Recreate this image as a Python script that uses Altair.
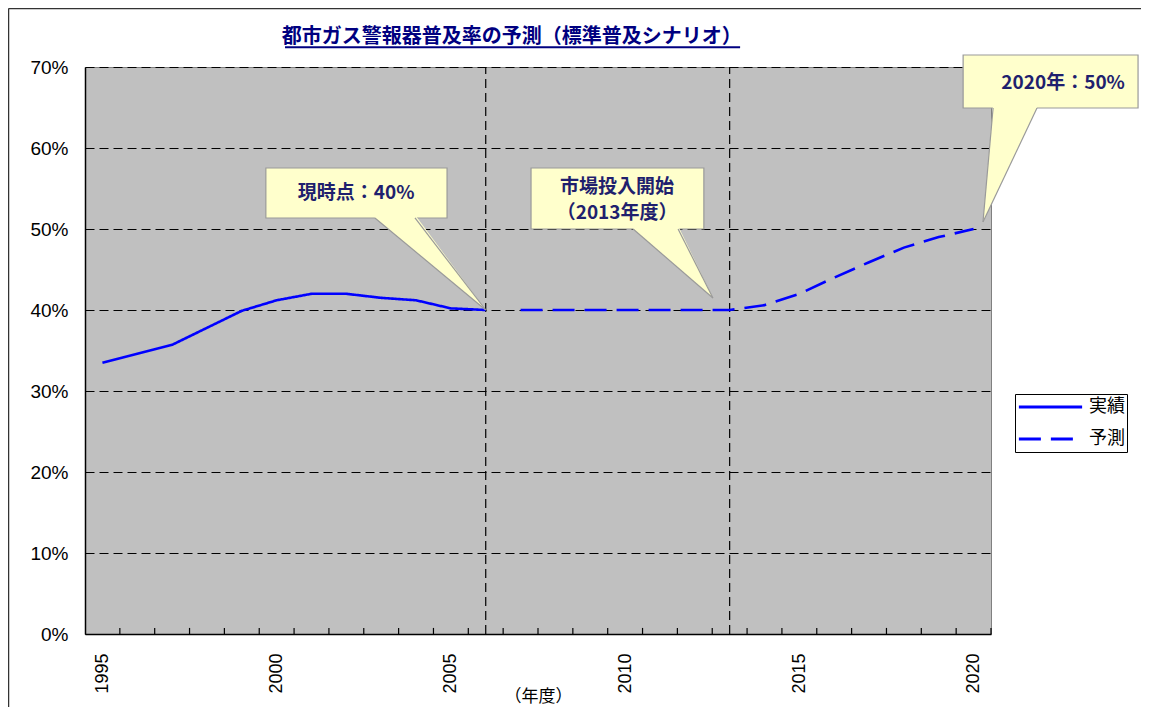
import altair as alt
import pandas as pd

# ---------------- data ----------------
title_text = "都市ガス警報器普及率の予測（標準普及シナリオ）"
x_axis_title = "（年度）"
series_names = ["実績", "予測"]

years_actual = [1995, 1996, 1997, 1998, 1999, 2000, 2001, 2002, 2003, 2004, 2005, 2006]
rate_actual = [33.5, 34.6, 35.7, 37.8, 39.9, 41.2, 42.0, 42.0, 41.5, 41.2, 40.2, 40.0]

years_forecast = [2007, 2008, 2009, 2010, 2011, 2012, 2013, 2014, 2015, 2016, 2017, 2018, 2019, 2020]
rate_forecast = [40.0, 40.0, 40.0, 40.0, 40.0, 40.0, 40.0, 40.6, 42.0, 44.0, 45.9, 47.7, 49.0, 50.0]

x_label_years = [1995, 2000, 2005, 2010, 2015, 2020]
y_tick_values = [0, 10, 20, 30, 40, 50, 60, 70]
marker_years = [2006, 2013]

callout_texts = ["現時点：40%", "市場投入開始", "（2013年度）", "2020年：50%"]

# ---------------- annotation geometry (data units) ----------------
box_x = [1999.69, 2007.30, 2019.70]
box_x2 = [2004.89, 2012.26, 2024.72]
box_y = [51.36, 50.0, 64.94]
box_y2 = [57.53, 57.53, 71.48]

ptr_bx1 = [2002.82, 2010.23, 2020.56]
ptr_bx2 = [2003.97, 2011.52, 2021.82]
ptr_by = [51.36, 50.0, 64.94]
ptr_tx = [2006.0, 2012.52, 2020.27]
ptr_ty = [40.0, 41.48, 50.86]

text_x = [2002.28, 2009.77, 2009.77, 2022.57]
text_y = [54.44, 55.19, 51.98, 68.02]

title_x, title_y = 2006.75, 73.75
underline_x, underline_x2, underline_y = 2000.24, 2013.30, 72.45

# ---------------- tables ----------------
line_df = pd.DataFrame({
    "year": years_actual + years_forecast,
    "rate": rate_actual + rate_forecast,
    "series": [series_names[0]] * len(years_actual) + [series_names[1]] * len(years_forecast),
})

marker_df = pd.DataFrame({"year": marker_years, "lo": [0, 0], "hi": [70, 70]})
tick_df = pd.DataFrame({"b": [y + 0.5 for y in range(1995, 2020)] + [2020.5]})
tick_df["lo"] = 0
tick_df["hi"] = 0.75

box_df = pd.DataFrame({"x": box_x, "x2": box_x2, "y": box_y, "y2": box_y2})

area_rows = []
side_rows = []
lift = 0.4
for i in range(3):
    bx1, bx2, by, tx, ty = ptr_bx1[i], ptr_bx2[i], ptr_by[i], ptr_tx[i], ptr_ty[i]
    if tx >= bx2:
        yb2 = by + (bx2 - bx1) / (tx - bx1) * (ty - by)
        pts = [(bx1, by + lift, by), (bx2, by + lift, yb2), (tx, ty, ty)]
    else:
        yb1 = ty + (bx1 - tx) / (bx2 - tx) * (by - ty)
        pts = [(tx, ty, ty), (bx1, by + lift, yb1), (bx2, by + lift, by)]
    for (px, t, b) in pts:
        area_rows.append({"id": i, "x": px, "top": t, "bot": b})
    side_rows.append({"x": bx1, "y": by, "x2": tx, "y2": ty})
    side_rows.append({"x": bx2, "y": by, "x2": tx, "y2": ty})
area_df = pd.DataFrame(area_rows)
side_df = pd.DataFrame(side_rows)

text_df = pd.DataFrame({"x": text_x, "y": text_y, "t": callout_texts})
title_df = pd.DataFrame({"x": [title_x], "y": [title_y], "t": [title_text]})
underline_df = pd.DataFrame({"x": [underline_x], "x2": [underline_x2], "y": [underline_y]})
one_df = pd.DataFrame({"a": [0]})

# ---------------- scales ----------------
xs = alt.Scale(domain=[1994.5, 2020.5], nice=False, zero=False)
ys = alt.Scale(domain=[0, 70], nice=False, zero=True)
navy = "#1F1F6E"
jp = "Noto Sans CJK JP"
lat = "Liberation Sans"

grid_layer = alt.Chart(line_df).mark_line(opacity=0).encode(
    x=alt.X("year:Q", scale=xs, axis=alt.Axis(
        values=x_label_years, format="d", labelAngle=-90, labelFontSize=18, labelFont=lat,
        labelColor="black", labelPadding=19, grid=False, ticks=False,
        domainColor="black", domainWidth=1.5,
        title=x_axis_title, titleFont=jp, titleFontSize=17, titleFontWeight="normal",
        titleColor="black", titleY=62, titleBaseline="middle")),
    y=alt.Y("rate:Q", scale=ys, axis=alt.Axis(
        values=y_tick_values, labelExpr="datum.value + '%'", labelFontSize=19, labelFont=lat,
        labelColor="black", labelPadding=17, ticks=False, grid=True, gridColor="black",
        gridDash=[9, 5], gridWidth=1, domainColor="black", domainWidth=1.5, title=None)),
)

marker_layer = alt.Chart(marker_df).mark_rule(color="black", strokeDash=[9, 5], strokeWidth=1.2).encode(
    x=alt.X("year:Q", scale=xs), y=alt.Y("lo:Q", scale=ys), y2="hi:Q")

tick_layer = alt.Chart(tick_df).mark_rule(color="black", strokeWidth=1.2).encode(
    x=alt.X("b:Q", scale=xs), y=alt.Y("lo:Q", scale=ys), y2="hi:Q")

lines = alt.Chart(line_df).mark_line(strokeWidth=2.6).encode(
    x=alt.X("year:Q", scale=xs),
    y=alt.Y("rate:Q", scale=ys),
    color=alt.Color("series:N", sort=series_names,
                    scale=alt.Scale(domain=series_names, range=["#0000FF", "#0000FF"]),
                    legend=alt.Legend(title=None)),
    strokeDash=alt.StrokeDash("series:N", sort=series_names,
                              scale=alt.Scale(domain=series_names, range=[[1, 0], [22, 10]]),
                              legend=alt.Legend(title=None)),
    detail="series:N",
)

boxes = alt.Chart(box_df).mark_rect(fill="#FFFFCC", stroke="#9A9A9A", strokeWidth=1.2).encode(
    x=alt.X("x:Q", scale=xs), x2="x2:Q", y=alt.Y("y:Q", scale=ys), y2="y2:Q")

pointers = alt.Chart(area_df).mark_area(fill="#FFFFCC", orient="vertical", opacity=1).encode(
    x=alt.X("x:Q", scale=xs), y=alt.Y("top:Q", scale=ys), y2="bot:Q", detail="id:N")

sides = alt.Chart(side_df).mark_rule(color="#9A9A9A", strokeWidth=1.2).encode(
    x=alt.X("x:Q", scale=xs), x2="x2:Q", y=alt.Y("y:Q", scale=ys), y2="y2:Q")

texts = alt.Chart(text_df).mark_text(font=jp, fontSize=19, fontWeight="bold", color=navy,
                                     align="center", baseline="middle").encode(
    x=alt.X("x:Q", scale=xs), y=alt.Y("y:Q", scale=ys), text="t:N")

title_mark = alt.Chart(title_df).mark_text(font=jp, fontSize=20, fontWeight="bold", color="#000080",
                                           align="center", baseline="middle").encode(
    x=alt.X("x:Q", scale=xs), y=alt.Y("y:Q", scale=ys), text="t:N")

underline = alt.Chart(underline_df).mark_rule(color="#000080", strokeWidth=2).encode(
    x=alt.X("x:Q", scale=xs), x2="x2:Q", y=alt.Y("y:Q", scale=ys))

frame_left = alt.Chart(one_df).mark_rule(color="#333333", strokeWidth=1.5).encode(
    x=alt.value(-76.5), y=alt.value(-58.5), y2=alt.value(700))
frame_top = alt.Chart(one_df).mark_rule(color="#333333", strokeWidth=1.5).encode(
    x=alt.value(-76.5), x2=alt.value(1100), y=alt.value(-58.5))

chart = alt.layer(
    grid_layer, marker_layer, tick_layer, lines, boxes, pointers, sides, texts,
    title_mark, underline, frame_left, frame_top,
).properties(
    width=906, height=567,
    autosize=alt.AutoSizeParams(type="none"),
    padding={"left": 77, "top": 59, "right": 150, "bottom": 73},
).configure_view(
    fill="#C0C0C0", stroke="#808080", strokeWidth=1,
).configure_legend(
    orient="none", legendX=930, legendY=327, strokeColor="black", fillColor="white",
    padding=2, symbolType="stroke", symbolSize=4000, symbolStrokeWidth=3,
    labelFont=jp, labelFontSize=18, labelColor="black", clipHeight=22, rowPadding=10,
    labelOffset=5,
)

chart.save("out.html", embed_options={"renderer": "svg", "actions": False})
